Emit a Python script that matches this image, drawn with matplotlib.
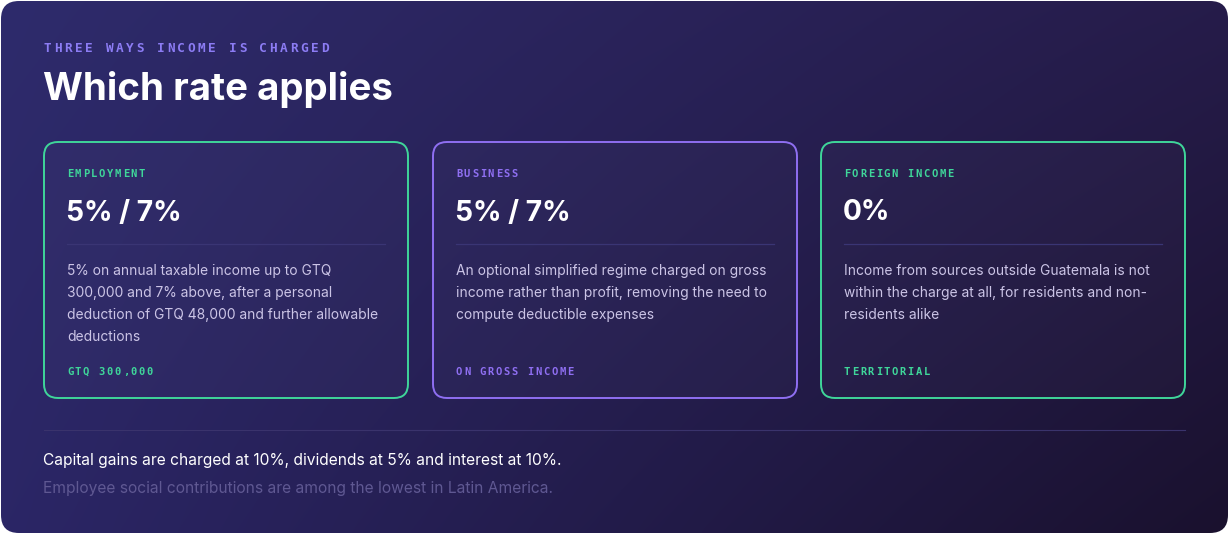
import numpy as np
import matplotlib
matplotlib.use("Agg")
import matplotlib.pyplot as plt
from matplotlib.patches import FancyBboxPatch

# ---- content ----
eyebrow = "THREE WAYS INCOME IS CHARGED"
title = "Which rate applies"

card_labels = ["EMPLOYMENT", "BUSINESS", "FOREIGN INCOME"]
card_rates = ["5% / 7%", "5% / 7%", "0%"]
card_bodies = [
    ["5% on annual taxable income up to GTQ",
     "300,000 and 7% above, after a personal",
     "deduction of GTQ 48,000 and further allowable",
     "deductions"],
    ["An optional simplified regime charged on gross",
     "income rather than profit, removing the need to",
     "compute deductible expenses"],
    ["Income from sources outside Guatemala is not",
     "within the charge at all, for residents and non-",
     "residents alike"],
]
card_tags = ["GTQ 300,000", "ON GROSS INCOME", "TERRITORIAL"]
card_accents = ["#3fd69a", "#8f6ff2", "#3fd69a"]

note_main = "Capital gains are charged at 10%, dividends at 5% and interest at 10%."
note_sub = "Employee social contributions are among the lowest in Latin America."

W, H = 1229, 534
SANS = ["Inter", "DejaVu Sans"]
MONO = ["DejaVu Sans Mono"]


def spaced(ax, x, y, s, step, **kw):
    # draw letter-spaced monospace text one glyph at a time
    for i, ch in enumerate(s):
        if ch != " ":
            ax.text(x + i * step, y, ch, va="center", ha="left", family=MONO, **kw)


fig = plt.figure(figsize=(W / 100, H / 100), dpi=100)
fig.patch.set_facecolor("white")
ax = fig.add_axes([0, 0, 1, 1])
ax.set_xlim(0, W)
ax.set_ylim(H, 0)
ax.axis("off")

# background gradient clipped to a rounded panel
tl = np.array(matplotlib.colors.to_rgb("#2e2b6c"))
tr = np.array(matplotlib.colors.to_rgb("#261c4a"))
bl = np.array(matplotlib.colors.to_rgb("#2b2666"))
br = np.array(matplotlib.colors.to_rgb("#1a112e"))
u = np.linspace(0, 1, 200)[None, :, None]
v = np.linspace(0, 1, 100)[:, None, None]
grad = (tl * (1 - u) * (1 - v) + tr * u * (1 - v) + bl * (1 - u) * v + br * u * v)
panel = FancyBboxPatch((1, 1), W - 2, H - 2, boxstyle="round,pad=0,rounding_size=18",
                       facecolor="none", edgecolor="none")
ax.add_patch(panel)
im = ax.imshow(grad, extent=(0, W, H, 0), aspect="auto", interpolation="bilinear", zorder=0)
im.set_clip_path(panel)

# header
spaced(ax, 44, 48, eyebrow, 10.25, fontsize=9.2, color="#8c7cf4", fontweight="bold")
ax.text(43, 90, title, family=SANS, fontsize=27.7, fontweight="bold", color="white",
        va="center", ha="left")

# cards
card_x = [44, 433, 821]
card_w, card_y, card_h = 364, 142, 256
for i in range(3):
    x0 = card_x[i]
    acc = card_accents[i]
    ax.add_patch(FancyBboxPatch((x0, card_y), card_w, card_h,
                                boxstyle="round,pad=0,rounding_size=14",
                                facecolor=(1, 1, 1, 0.02), edgecolor=acc, linewidth=1.4,
                                zorder=2))
    tx = x0 + 23
    spaced(ax, tx, 174, card_labels[i], 7.95, fontsize=7.6, color=acc, fontweight="bold",
           zorder=3)
    ax.text(tx - 1, 213, card_rates[i], family=SANS, fontsize=20.3, fontweight="bold",
            color="white", va="center", ha="left", zorder=3)
    ax.plot([tx, x0 + card_w - 23], [244, 244], color="#3a3574", lw=0.9, zorder=3)
    for j, line in enumerate(card_bodies[i]):
        ax.text(tx, 271 + 22 * j, line, family=SANS, fontsize=9.95, color="#cbc4e6",
                va="center", ha="left", zorder=3)
    spaced(ax, tx, 372, card_tags[i], 7.95, fontsize=7.6, color=acc, fontweight="bold",
           zorder=3)

# footer
ax.plot([44, 1185], [430, 430], color="#3a336c", lw=0.8)
ax.text(43, 461, note_main, family=SANS, fontsize=11.2, color="white",
        va="center", ha="left")
ax.text(43, 489, note_sub, family=SANS, fontsize=11.2, color="#5f5892",
        va="center", ha="left")

fig.savefig("out.png", dpi=100, facecolor="white")
